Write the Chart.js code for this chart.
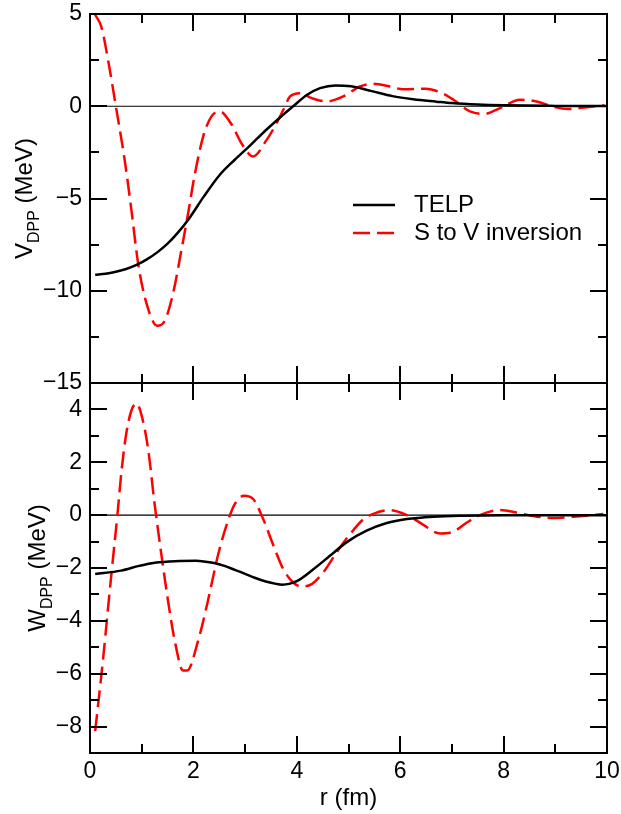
<!DOCTYPE html>
<html>
<head>
<meta charset="utf-8">
<script src="https://cdn.jsdelivr.net/npm/chart.js@4/dist/chart.umd.min.js"></script>
<style>
html,body{margin:0;padding:0;background:#fff;}
#wrap{position:relative;width:621px;height:814px;overflow:hidden;background:#fff;}
#c1{position:absolute;left:0;top:0;width:621px;height:400px;}
#c2{position:absolute;left:0;top:369px;width:621px;height:445px;}
</style>
</head>
<body>
<div id="wrap">
<canvas id="c1" width="621" height="400"></canvas>
<canvas id="c2" width="621" height="445"></canvas>
</div>
<script>
// ---------------- data ----------------
const seriesNames = ['TELP', 'S to V inversion'];

const xTickValues = [0,1,2,3,4,5,6,7,8,9,10];
const xTickLabels = ['0','','2','','4','','6','','8','','10'];
const vTickValues = [-15,-12.5,-10,-7.5,-5,-2.5,0,2.5,5];
const vTickLabels = ['−15','','−10','','−5','','0','','5'];
const wTickValues = [-9,-8,-7,-6,-5,-4,-3,-2,-1,0,1,2,3,4,5];
const wTickLabels = ['','−8','','−6','','−4','','−2','','0','','2','','4',''];

// Real part V_DPP, TELP
const rTelpV = [0.1,0.3,0.5,0.7,0.9,1.1,1.3,1.5,1.7,1.9,2.2,2.5,2.8,3.1,3.4,3.7,3.93,4.2,4.45,4.75,5.05,5.45,5.85,6.25,6.7,7.0,7.5,8.0,9.0,10.0];
const vTelp  = [-9.13,-9.08,-8.97,-8.82,-8.6,-8.3,-7.92,-7.45,-6.85,-6.15,-4.9,-3.75,-2.9,-2.12,-1.3,-0.55,0,0.62,0.98,1.13,1.08,0.82,0.55,0.38,0.25,0.17,0.09,0.05,0.02,0.01];

// Real part V_DPP, S to V inversion
const rInvV = [0.1,0.22,0.35,0.5,0.67,0.8,0.93,1.09,1.3,1.44,1.61,1.77,1.9,2.02,2.19,2.35,2.51,2.73,2.95,3.15,3.42,3.61,3.74,3.87,4.06,4.29,4.58,4.9,5.22,5.48,5.8,6.05,6.5,6.8,7.03,7.35,7.62,7.93,8.32,8.64,8.96,9.25,9.61,9.95];
const vInv  = [4.96,4.3,2.5,0,-2.9,-5.6,-8.5,-10.66,-11.9,-11.66,-10.1,-7.77,-5.77,-3.8,-1.63,-0.55,-0.28,-0.95,-2.1,-2.72,-1.81,-0.91,-0.19,0.53,0.71,0.44,0.26,0.53,1.07,1.22,1.07,0.92,0.95,0.72,0.35,-0.28,-0.42,-0.1,0.35,0.26,-0.03,-0.15,-0.05,0.06];

// Imaginary part W_DPP, TELP
const rTelpW = [0.1,0.6,0.95,1.25,1.65,2.05,2.2,2.4,2.6,2.8,3.0,3.2,3.4,3.6,3.72,3.85,4.0,4.32,4.64,4.96,5.35,5.74,6.13,6.64,7.2,8.0,10.0];
const wTelp  = [-2.23,-2.1,-1.92,-1.8,-1.74,-1.73,-1.75,-1.81,-1.92,-2.07,-2.22,-2.38,-2.51,-2.6,-2.63,-2.6,-2.5,-2.05,-1.54,-1.03,-0.59,-0.3,-0.15,-0.06,-0.02,0,0];

// Imaginary part W_DPP, S to V inversion
const rInvW = [0.1,0.25,0.35,0.44,0.53,0.61,0.7,0.8,0.9,0.99,1.12,1.25,1.38,1.51,1.64,1.8,1.88,2.09,2.28,2.48,2.67,2.8,2.98,3.16,3.35,3.55,3.74,3.93,4.09,4.29,4.51,4.77,5.03,5.29,5.55,5.8,6.13,6.38,6.77,7.03,7.29,7.54,7.93,8.25,8.57,8.96,9.35,9.93];
const wInv  = [-8.17,-5.5,-3.5,-1.73,0,1.68,3.07,3.95,4.23,3.83,2.56,0.42,-1.48,-3.25,-4.76,-5.88,-5.88,-4.76,-3.25,-1.48,-0.21,0.42,0.73,0.6,-0.15,-1.16,-2.05,-2.55,-2.7,-2.61,-2.17,-1.41,-0.72,-0.15,0.1,0.19,0,-0.28,-0.69,-0.62,-0.28,0,0.19,0.1,-0.03,-0.11,-0.06,0.04];

// ---------------- helpers ----------------
const FONT = '"Liberation Sans", Arial, Helvetica, sans-serif';
const pts = (xs, ys) => xs.map((x, i) => ({x: x, y: ys[i]}));
const labelFor = (vals, labs) => (v) => {
  const i = vals.findIndex(t => Math.abs(t - v) < 1e-6);
  return i >= 0 ? labs[i] : '';
};

const frameTicks = {
  id: 'frameTicks',
  beforeDatasetsDraw(chart, args, o) {
    const {ctx, chartArea: a, scales} = chart;
    const y0 = scales.y.getPixelForValue(0);
    ctx.save();
    ctx.strokeStyle = '#000';
    ctx.lineWidth = 1.2;
    ctx.beginPath();
    ctx.moveTo(a.left, y0);
    ctx.lineTo(a.right, y0);
    ctx.stroke();
    ctx.restore();
  },
  afterDatasetsDraw(chart, args, o) {
    const {ctx, chartArea: a, scales} = chart;
    const xs = scales.x, ys = scales.y;
    ctx.save();
    ctx.strokeStyle = '#000';
    ctx.lineWidth = 2;
    ctx.beginPath();
    o.xTicks.forEach(v => {
      if (v <= xs.min || v >= xs.max) return;
      const p = Math.round(xs.getPixelForValue(v));
      const L = (Math.abs(v / o.xMajor - Math.round(v / o.xMajor)) < 1e-6) ? 17 : 9;
      ctx.moveTo(p, a.top); ctx.lineTo(p, a.top + L);
      ctx.moveTo(p, a.bottom); ctx.lineTo(p, a.bottom - L);
    });
    o.yTicks.forEach(v => {
      if (v <= ys.min || v >= ys.max) return;
      const p = Math.round(ys.getPixelForValue(v));
      const L = (Math.abs(v / o.yMajor - Math.round(v / o.yMajor)) < 1e-6) ? 17 : 9;
      ctx.moveTo(a.left, p); ctx.lineTo(a.left + L, p);
      ctx.moveTo(a.right, p); ctx.lineTo(a.right - L, p);
    });
    ctx.stroke();
    ctx.strokeRect(a.left, a.top, a.right - a.left, a.bottom - a.top);
    ctx.restore();
  }
};

const yTitle = {
  id: 'yTitle',
  afterDraw(chart, args, o) {
    const {ctx, chartArea: a} = chart;
    const mainF = '24px ' + FONT, subF = '16px ' + FONT;
    ctx.save();
    ctx.font = mainF; const w1 = ctx.measureText(o.main).width;
    const w3 = ctx.measureText(o.rest).width;
    ctx.font = subF; const w2 = ctx.measureText(o.sub).width;
    const total = w1 + w2 + w3;
    ctx.translate(o.x, (a.top + a.bottom) / 2);
    ctx.rotate(-Math.PI / 2);
    ctx.fillStyle = '#000';
    ctx.textBaseline = 'alphabetic';
    ctx.textAlign = 'left';
    let x = -total / 2;
    ctx.font = mainF; ctx.fillText(o.main, x, 0); x += w1;
    ctx.font = subF; ctx.fillText(o.sub, x, 7); x += w2;
    ctx.font = mainF; ctx.fillText(o.rest, x, 0);
    ctx.restore();
  }
};

const boxLegend = {
  id: 'boxLegend',
  afterDraw(chart, args, o) {
    if (!o || !o.show) return;
    const {ctx} = chart;
    ctx.save();
    chart.data.datasets.forEach((ds, i) => {
      const y = o.y + i * o.dy;
      ctx.strokeStyle = ds.borderColor;
      ctx.lineWidth = ds.borderWidth;
      ctx.setLineDash(ds.borderDash || []);
      ctx.beginPath();
      ctx.moveTo(o.x1, y); ctx.lineTo(o.x2, y);
      ctx.stroke();
      ctx.setLineDash([]);
      ctx.fillStyle = '#000';
      ctx.font = '24px ' + FONT;
      ctx.textBaseline = 'middle';
      ctx.textAlign = 'left';
      ctx.fillText(ds.label, o.tx, y);
    });
    ctx.restore();
  }
};

function makeDatasets(telp, inv) {
  return [
    {label: seriesNames[0], data: telp, borderColor: '#000000', borderWidth: 2.5,
     pointRadius: 0, fill: false, cubicInterpolationMode: 'monotone'},
    {label: seriesNames[1], data: inv, borderColor: '#ff0000', borderWidth: 2.5,
     borderDash: [17, 7], pointRadius: 0, fill: false, cubicInterpolationMode: 'monotone'}
  ];
}

function yScale(min, max, vals, labs) {
  return {
    type: 'linear', min: min, max: max,
    afterBuildTicks: s => { s.ticks = vals.map(v => ({value: v})); },
    afterFit: s => { s.width = 90; s.paddingTop = 0; s.paddingBottom = 0; },
    ticks: {autoSkip: false, callback: labelFor(vals, labs), color: '#000',
            font: {family: FONT, size: 23}, padding: 8},
    grid: {display: false, drawTicks: false, tickLength: 0},
    border: {display: false}
  };
}

Chart.defaults.font.family = FONT;

// ---------------- top panel ----------------
new Chart(document.getElementById('c1'), {
  type: 'line',
  data: {datasets: makeDatasets(pts(rTelpV, vTelp), pts(rInvV, vInv))},
  options: {
    responsive: false, animation: false, devicePixelRatio: 1,
    layout: {padding: {top: 14, right: 14, bottom: 17, left: 0}},
    scales: {
      x: {type: 'linear', min: 0, max: 10, display: false,
          afterFit: s => { s.paddingLeft = 0; s.paddingRight = 0; }},
      y: yScale(-15, 5, vTickValues, vTickLabels)
    },
    plugins: {
      legend: {display: false}, tooltip: {enabled: false},
      frameTicks: {xTicks: xTickValues, yTicks: vTickValues, xMajor: 2, yMajor: 5},
      yTitle: {main: 'V', sub: 'DPP', rest: ' (MeV)', x: 32},
      boxLegend: {show: true, x1: 353, x2: 395, tx: 414, y: 205, dy: 28}
    }
  },
  plugins: [frameTicks, yTitle, boxLegend]
});

// ---------------- bottom panel ----------------
new Chart(document.getElementById('c2'), {
  type: 'line',
  data: {datasets: makeDatasets(pts(rTelpW, wTelp), pts(rInvW, wInv))},
  options: {
    responsive: false, animation: false, devicePixelRatio: 1,
    layout: {padding: {top: 14, right: 14, bottom: 1, left: 0}},
    scales: {
      x: {
        type: 'linear', min: 0, max: 10,
        afterBuildTicks: s => { s.ticks = xTickValues.map(v => ({value: v})); },
        afterFit: s => { s.height = 60; s.paddingLeft = 0; s.paddingRight = 0; },
        ticks: {autoSkip: false, maxRotation: 0, callback: labelFor(xTickValues, xTickLabels),
                color: '#000', font: {family: FONT, size: 23}, padding: 5},
        grid: {display: false, drawTicks: false, tickLength: 0},
        border: {display: false},
        title: {display: true, text: 'r (fm)', color: '#000',
                font: {family: FONT, size: 24}, padding: 0}
      },
      y: yScale(-9, 5, wTickValues, wTickLabels)
    },
    plugins: {
      legend: {display: false}, tooltip: {enabled: false},
      frameTicks: {xTicks: xTickValues, yTicks: wTickValues, xMajor: 2, yMajor: 2},
      yTitle: {main: 'W', sub: 'DPP', rest: ' (MeV)', x: 45},
      boxLegend: {show: false}
    }
  },
  plugins: [frameTicks, yTitle, boxLegend]
});
</script>
</body>
</html>
